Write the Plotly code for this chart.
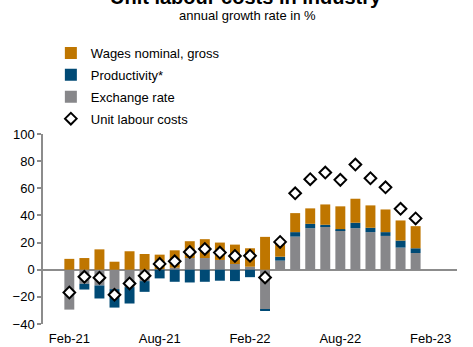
import plotly.graph_objects as go

months = ["Feb-21", "Mar-21", "Apr-21", "May-21", "Jun-21", "Jul-21", "Aug-21", "Sep-21",
          "Oct-21", "Nov-21", "Dec-21", "Jan-22", "Feb-22", "Mar-22", "Apr-22", "May-22",
          "Jun-22", "Jul-22", "Aug-22", "Sep-22", "Oct-22", "Nov-22", "Dec-22", "Jan-23", "Feb-23"]

wages = [8.0, 8.6, 15.0, 5.9, 13.6, 11.6, 10.6, 12.8, 12.4, 13.9, 12.8, 14.3, 13.6,
         24.2, 9.4, 14.0, 11.4, 15.0, 16.8, 17.7, 16.5, 16.7, 14.8, 16.3, None]
productivity = [0.0, -4.2, -9.6, -13.6, -12.1, -7.9, -6.4, -8.9, -9.4, -8.9, -8.1, -8.4, -5.5,
                -0.8, 2.9, 3.3, 3.2, 1.2, 0.8, 4.0, 3.2, 2.8, 5.2, 3.5, None]
exchange = [-29.4, -10.4, -11.6, -14.3, -12.8, -8.4, 0.5, 1.5, 8.6, 8.6, 7.2, 4.2, 2.2,
            -29.4, 6.7, 24.4, 30.6, 31.9, 29.1, 30.6, 27.7, 24.9, 16.3, 12.3, None]
ulc = [-16.8, -5.2, -5.9, -18.5, -10.1, -4.4, 4.3, 6.2, 13.1, 15.3, 12.6, 10.1, 10.3,
       -5.7, 20.5, 56.3, 66.7, 71.6, 66.2, 77.5, 67.4, 60.7, 44.9, 37.8, None]

tick_labels = ["Feb-21", "Aug-21", "Feb-22", "Aug-22", "Feb-23"]
y_ticks = [-40, -20, 0, 20, 40, 60, 80, 100]

ORANGE = "#BF7600"
BLUE = "#004A75"
GRAY = "#87878A"
AXIS = "#8C8C8C"

fig = go.Figure()
fig.add_trace(go.Bar(x=months, y=exchange, name="Exchange rate", marker_color=GRAY,
                     marker_line_width=0, legendgroup="c", legendrank=3))
fig.add_trace(go.Bar(x=months, y=productivity, name="Productivity*", marker_color=BLUE,
                     marker_line_width=0, legendgroup="b", legendrank=2))
fig.add_trace(go.Bar(x=months, y=wages, name="Wages nominal, gross", marker_color=ORANGE,
                     marker_line_width=0, legendgroup="a", legendrank=1))
fig.add_trace(go.Scatter(x=months, y=ulc, name="Unit labour costs", mode="markers",
                         marker=dict(symbol="diamond", size=9, color="white",
                                     line=dict(color="black", width=2)),
                         legendgroup="d", legendrank=4))

fig.update_layout(
    width=473, height=347,
    margin=dict(l=43, r=16, t=134, b=23, autoexpand=False),
    paper_bgcolor="white", plot_bgcolor="white",
    barmode="relative", bargap=0.34,
    font=dict(family="Liberation Sans, Arial, sans-serif", size=13, color="black"),
    showlegend=True,
    legend=dict(x=0.019, xref="paper", y=1 - 38 / 347, yref="container",
                xanchor="left", yanchor="top",
                bgcolor="rgba(0,0,0,0)", tracegroupgap=2,
                font=dict(size=13), itemwidth=30),
    xaxis=dict(tickmode="array", tickvals=tick_labels, ticktext=tick_labels,
               showline=False, showgrid=False, zeroline=False, ticks="",
               ticklabelstandoff=5, tickangle=0),
    yaxis=dict(range=[-40, 100], tickvals=y_ticks, showgrid=False,
               showline=True, linecolor=AXIS, linewidth=1.5,
               ticks="outside", ticklen=4, tickcolor=AXIS, tickwidth=1.5,
               zeroline=True, zerolinecolor=AXIS, zerolinewidth=2),
    annotations=[
        dict(text="<b>Unit labour costs in industry</b>", xref="paper", yref="paper",
             x=0.49, y=1, yshift=137, xanchor="center", yanchor="middle",
             showarrow=False, font=dict(size=20)),
        dict(text="annual growth rate in %", xref="paper", yref="paper",
             x=0.493, y=1, yshift=119, xanchor="center", yanchor="middle",
             showarrow=False, font=dict(size=13)),
    ],
)

fig.write_html("out.html", config={"displayModeBar": False},
               post_script="document.body.style.margin='0';document.body.style.overflow='hidden';")
